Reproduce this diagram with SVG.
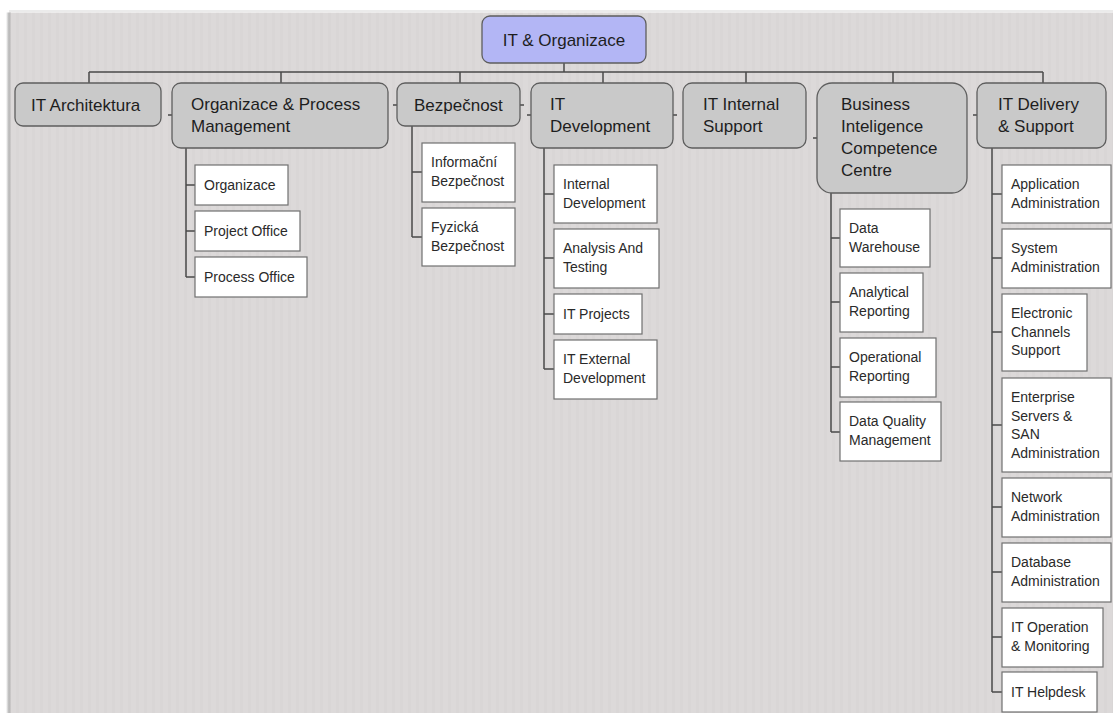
<svg xmlns="http://www.w3.org/2000/svg" width="1113" height="713" viewBox="0 0 1113 713">
<defs>
<pattern id="stripes" x="0" y="0" width="8" height="10" patternUnits="userSpaceOnUse">
<rect width="8" height="10" fill="#dcd9d9"/>
<rect x="0" width="3" height="10" fill="#d9d6d6"/>
</pattern>
<linearGradient id="lshadow" x1="0" y1="0" x2="1" y2="0">
<stop offset="0" stop-color="#ffffff"/>
<stop offset="0.6" stop-color="#b4b4b4"/>
<stop offset="1" stop-color="#d0cdcd"/>
</linearGradient>
<style>
.top rect{fill:#c9c9c9;stroke:#5e5e5e;stroke-width:1.3}
.root rect{fill:#b3b6f5;stroke:#5e5e5e;stroke-width:1.3}
.child rect{fill:#ffffff;stroke:#707070;stroke-width:1.2}
.top text,.root text{font-family:"Liberation Sans",Arial,sans-serif;font-size:17px;fill:#1e1e1e}
.child text{font-family:"Liberation Sans",Arial,sans-serif;font-size:14px;fill:#2a2a2a}
#connectors path{fill:none;stroke:#4a4a4a;stroke-width:1.5}
</style>
</defs>
<rect width="1113" height="713" fill="#ffffff"/>
<line x1="9" y1="11" x2="1113" y2="11" stroke="#e4e4e4" stroke-width="1.5"/>
<rect x="9" y="12.5" width="1104" height="701" fill="url(#stripes)"/>
<rect x="6" y="12.5" width="5" height="701" fill="url(#lshadow)"/>

<g id="connectors">
<path d="M564 63V72M89 72H1043M89 72V83M281 72V83M460 72V83M603 72V83M746 72V83M893 72V83M1043 72V83"/>
<path d="M186 148V277M186 185H195M186 231H195M186 277H195"/>
<path d="M412 126V237M412 172H422M412 237H422"/>
<path d="M544 148V369M544 194H554M544 258H554M544 314H554M544 369H554"/>
<path d="M831 193V432M831 238H840M831 302H840M831 367H840M831 432H840"/>
<path d="M992 148V692M992 194H1002M992 258H1002M992 332H1002M992 425H1002M992 507H1002M992 572H1002M992 637H1002M992 692H1002"/>
<path d="M168 115H172M393 105H397M520 105H524M527 115H531M673 115H677M813 138H817M973 115H977"/>
</g>

<g id="n-root" class="root"><rect x="482" y="16" width="164" height="47" rx="8"/><text x="564" y="45.5" text-anchor="middle">IT &amp; Organizace</text></g>

<g id="n-arch" class="top"><rect x="15" y="83" width="146" height="43" rx="8"/><text x="31" y="110.5">IT Architektura</text></g>
<g id="n-opm" class="top"><rect x="172" y="83" width="216" height="65" rx="9"/><text x="191" y="110">Organizace &amp; Process</text><text x="191" y="132">Management</text></g>
<g id="n-bez" class="top"><rect x="397" y="83" width="123" height="43" rx="8"/><text x="414" y="110.5">Bezpečnost</text></g>
<g id="n-dev" class="top"><rect x="531" y="83" width="142" height="65" rx="9"/><text x="550" y="110">IT</text><text x="550" y="132">Development</text></g>
<g id="n-int" class="top"><rect x="683" y="83" width="123" height="65" rx="9"/><text x="703" y="110">IT Internal</text><text x="703" y="132">Support</text></g>
<g id="n-bi" class="top"><rect x="817" y="83" width="150" height="110" rx="15"/><text x="841" y="110">Business</text><text x="841" y="132">Inteligence</text><text x="841" y="154">Competence</text><text x="841" y="176">Centre</text></g>
<g id="n-del" class="top"><rect x="977" y="83" width="129" height="65" rx="9"/><text x="998" y="110">IT Delivery</text><text x="998" y="132">&amp; Support</text></g>

<g id="c-org" class="child"><rect x="195" y="165" width="93" height="40"/><text x="204" y="190">Organizace</text></g>
<g id="c-proj" class="child"><rect x="195" y="211" width="105" height="40"/><text x="204" y="236">Project Office</text></g>
<g id="c-proc" class="child"><rect x="195" y="257" width="112" height="40"/><text x="204" y="282">Process Office</text></g>

<g id="c-inf" class="child"><rect x="422" y="143" width="93" height="59"/><text x="431" y="167">Informační</text><text x="431" y="186">Bezpečnost</text></g>
<g id="c-fyz" class="child"><rect x="422" y="208" width="93" height="58"/><text x="431" y="232">Fyzická</text><text x="431" y="251">Bezpečnost</text></g>

<g id="c-intdev" class="child"><rect x="554" y="165" width="103" height="58"/><text x="563" y="189">Internal</text><text x="563" y="208">Development</text></g>
<g id="c-ana" class="child"><rect x="554" y="229" width="105" height="59"/><text x="563" y="253">Analysis And</text><text x="563" y="272">Testing</text></g>
<g id="c-itp" class="child"><rect x="554" y="294" width="88" height="40"/><text x="563" y="319">IT Projects</text></g>
<g id="c-ext" class="child"><rect x="554" y="340" width="103" height="59"/><text x="563" y="364">IT External</text><text x="563" y="383">Development</text></g>

<g id="c-dw" class="child"><rect x="840" y="209" width="90" height="58"/><text x="849" y="233">Data</text><text x="849" y="252">Warehouse</text></g>
<g id="c-ar" class="child"><rect x="840" y="273" width="83" height="59"/><text x="849" y="297">Analytical</text><text x="849" y="316">Reporting</text></g>
<g id="c-or" class="child"><rect x="840" y="338" width="96" height="59"/><text x="849" y="362">Operational</text><text x="849" y="381">Reporting</text></g>
<g id="c-dq" class="child"><rect x="840" y="402" width="101" height="59"/><text x="849" y="426">Data Quality</text><text x="849" y="445">Management</text></g>

<g id="c-app" class="child"><rect x="1002" y="165" width="109" height="58"/><text x="1011" y="189">Application</text><text x="1011" y="208">Administration</text></g>
<g id="c-sys" class="child"><rect x="1002" y="229" width="109" height="59"/><text x="1011" y="253">System</text><text x="1011" y="272">Administration</text></g>
<g id="c-ecs" class="child"><rect x="1002" y="294" width="85" height="77"/><text x="1011" y="318">Electronic</text><text x="1011" y="337">Channels</text><text x="1011" y="355">Support</text></g>
<g id="c-ent" class="child"><rect x="1002" y="378" width="109" height="94"/><text x="1011" y="402">Enterprise</text><text x="1011" y="421">Servers &amp;</text><text x="1011" y="439">SAN</text><text x="1011" y="458">Administration</text></g>
<g id="c-net" class="child"><rect x="1002" y="478" width="109" height="59"/><text x="1011" y="502">Network</text><text x="1011" y="521">Administration</text></g>
<g id="c-db" class="child"><rect x="1002" y="543" width="109" height="59"/><text x="1011" y="567">Database</text><text x="1011" y="586">Administration</text></g>
<g id="c-ops" class="child"><rect x="1002" y="608" width="101" height="59"/><text x="1011" y="632">IT Operation</text><text x="1011" y="651">&amp; Monitoring</text></g>
<g id="c-help" class="child"><rect x="1002" y="672" width="95" height="40"/><text x="1011" y="697">IT Helpdesk</text></g>
</svg>
